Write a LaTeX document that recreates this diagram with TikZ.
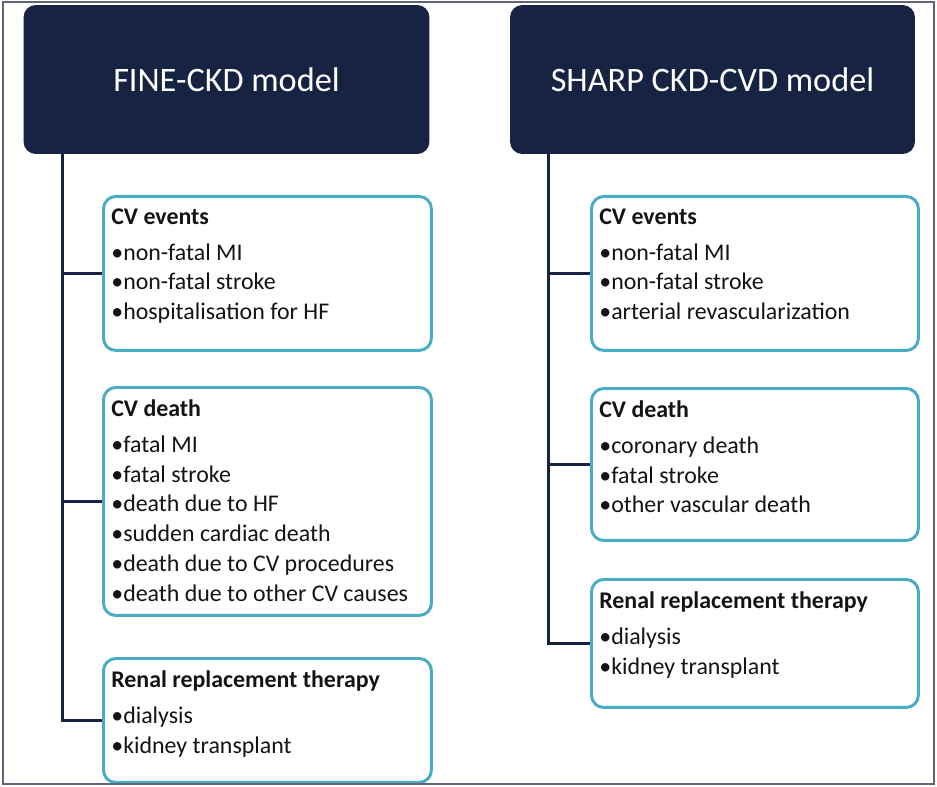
\documentclass[tikz,border=0pt]{standalone}
\usepackage{fontspec}
\setmainfont{Carlito}
\usetikzlibrary{positioning, calc}
\definecolor{mynavy}{RGB}{23,35,66}
\definecolor{myblue}{RGB}{75,172,198}
\definecolor{mygray}{RGB}{95,100,118}
\definecolor{mytext}{RGB}{20,20,20}
\tikzset{
  header/.style={rectangle, fill=mynavy, text=white,
    minimum width=8.12cm, minimum height=2.98cm,
    font=\fontsize{19.5}{23}\selectfont, rounded corners=7pt, inner sep=0pt},
  evbox/.style={rectangle, draw=myblue, fill=white, anchor=north west,
    minimum width=6.56cm, line width=1.7pt, rounded corners=7pt, inner sep=0pt},
  evtext/.style={anchor=north west, inner sep=0pt, align=left,
    text=mytext, font=\fontsize{13.6}{17}\selectfont},
  link/.style={line width=1.8pt, color=mynavy}
}
\newcommand{\evtitle}[1]{\textbf{#1}\\[3.5pt]}

\begin{document}
\begin{tikzpicture}[x=0.02cm, y=-0.02cm]
  \useasboundingbox (0,0) rectangle (937,787);

  % model headers
  \node[header] (hl) at (226.5,79.5) {FINE-CKD model};
  \node[header, minimum width=8.1cm] (hr) at (712.5,79.5) {SHARP CKD-CVD model};

  % FINE-CKD outcomes
  \node[evbox, minimum height=3.08cm] (l1) at (102,195) {};
  \node[evbox, minimum height=4.56cm] (l2) at (102,386) {};
  \node[evbox, minimum height=2.48cm] (l3) at (102,657) {};
  \node[evtext] (l1t) at ($(l1.north west)+(9,13)$) {\evtitle{CV events}%
    •non-fatal MI\\•non-fatal stroke\\•hospitalisation for HF};
  \node[evtext] (l2t) at ($(l2.north west)+(9,13)$) {\evtitle{CV death}%
    •fatal MI\\•fatal stroke\\•death due to HF\\•sudden cardiac death\\%
    •death due to CV procedures\\•death due to other CV causes};
  \node[evtext] (l3t) at ($(l3.north west)+(9,13)$) {\evtitle{Renal replacement therapy}%
    •dialysis\\•kidney transplant};

  % SHARP CKD-CVD outcomes
  \node[evbox, minimum height=3.08cm, minimum width=6.54cm] (r1) at (590,195) {};
  \node[evbox, minimum height=3.04cm, minimum width=6.54cm] (r2) at (590,387) {};
  \node[evbox, minimum height=2.56cm, minimum width=6.54cm] (r3) at (590,578) {};
  \node[evtext] (r1t) at ($(r1.north west)+(9,13)$) {\evtitle{CV events}%
    •non-fatal MI\\•non-fatal stroke\\•arterial revascularization};
  \node[evtext] (r2t) at ($(r2.north west)+(9,13)$) {\evtitle{CV death}%
    •coronary death\\•fatal stroke\\•other vascular death};
  \node[evtext] (r3t) at ($(r3.north west)+(9,13)$) {\evtitle{Renal replacement therapy}%
    •dialysis\\•kidney transplant};

  % tree lines
  \coordinate (ltop) at ($(hl.south west)+(39,0)$);
  \coordinate (rtop) at ($(hr.south west)+(39,0)$);
  \draw[link] (ltop) |- (l3.west);
  \draw[link] (l1.west) -- (l1.west -| ltop);
  \draw[link] (l2.west) -- (l2.west -| ltop);
  \draw[link] (rtop) |- (r3.west);
  \draw[link] (r1.west) -- (r1.west -| rtop);
  \draw[link] (r2.west) -- (r2.west -| rtop);

  \draw[mygray, line width=1.1pt] (3,2) rectangle (934,784);
\end{tikzpicture}
\end{document}
